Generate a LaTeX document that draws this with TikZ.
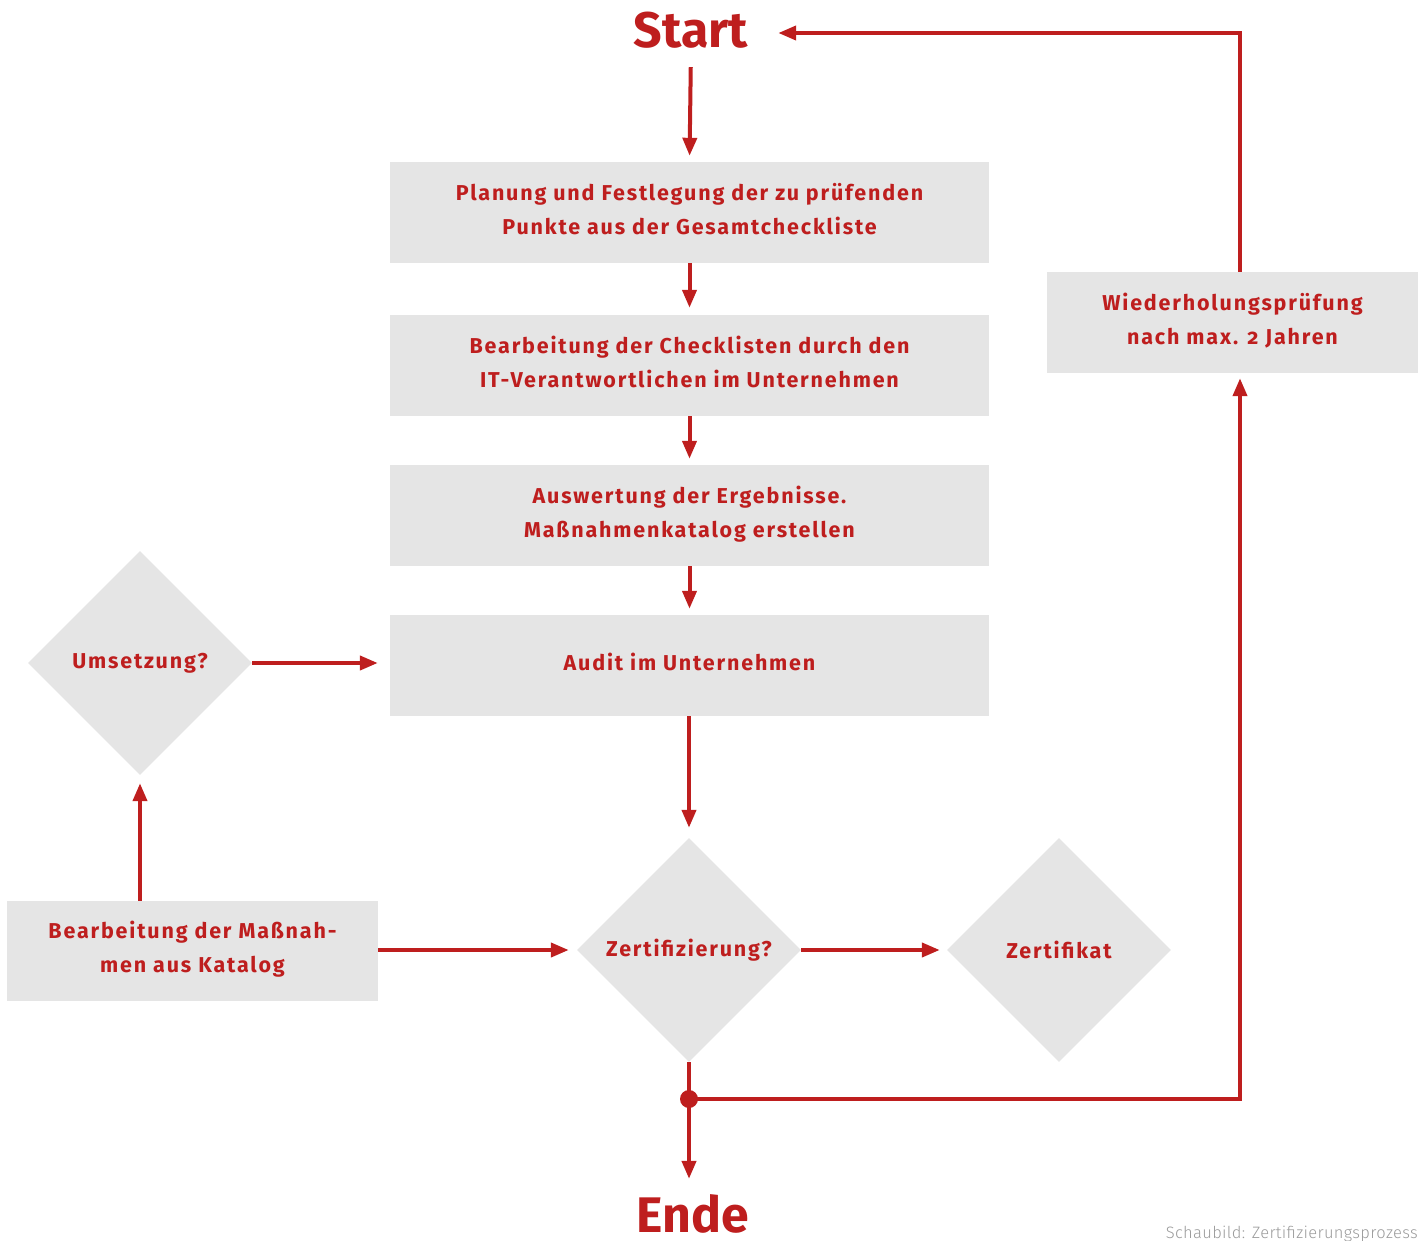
\documentclass[tikz,border=0pt]{standalone}
\usepackage{fontspec}
\setmainfont{Fira Sans}[Numbers=OldStyle,LetterSpace=8.5]
\newfontfamily\bigfont{Fira Sans}
\newfontfamily\footfont{Fira Sans Light}[LetterSpace=2]
\usetikzlibrary{shapes.geometric,arrows.meta}
\definecolor{cred}{RGB}{190,30,30}
\definecolor{cgray}{RGB}{229,229,229}
\definecolor{cfoot}{RGB}{155,155,155}
\begin{document}
\begin{tikzpicture}[x=1pt,y=-1pt,
  box/.style={rectangle,fill=cgray,minimum width=599pt,minimum height=101pt,inner sep=0pt,
    text depth=8pt,align=center,text=cred,font=\fontsize{21.5}{34}\selectfont\bfseries},
  dia/.style={diamond,fill=cgray,aspect=1,minimum width=224pt,minimum height=224pt,inner sep=0pt,
    align=center,text=cred,font=\fontsize{21.5}{34}\selectfont\bfseries},
  big/.style={text=cred,inner sep=0pt,font=\bigfont\fontsize{50}{50}\selectfont\bfseries},
  conn/.style={draw=cred,line width=4pt,-{Triangle[length=18pt,width=14pt]}},
]
\useasboundingbox (0,0) rectangle (1427,1240);
\node[big,anchor=base] (start) at (691,47) {Start};
\node[big,anchor=base] (ende) at (693,1232) {Ende};
\node[box] (b1) at (689.5,212.5) {Planung und Festlegung der zu prüfenden\\Punkte aus der Gesamtcheckliste};
\node[box] (b2) at (689.5,365.5) {Bearbeitung der Checklisten durch den\\IT-Verantwortlichen im Unternehmen};
\node[box] (b3) at (689.5,515.5) {Auswertung der Ergebnisse.\\Maßnahmenkatalog erstellen};
\node[box] (b4) at (689.5,665.5) {Audit im Unternehmen};
\node[dia] (zert) at (689,950) {Zertifizierung?};
\node[dia] (zfk) at (1059,950) {Zertifikat};
\node[dia] (ums) at (140,663) {Umsetzung?};
\node[box,minimum width=371pt,minimum height=100pt] (b5) at (192.5,951) {Bearbeitung der Maßnah-\\men aus Katalog};
\node[box,minimum width=371pt,minimum height=101pt] (rep) at (1232.5,322.5) {Wiederholungsprüfung\\nach max. 2 Jahren};
\coordinate (j) at (689,1099);
\coordinate (tc) at (1240,33);
\node[anchor=base east,inner sep=0pt,text=cfoot,font=\footfont\fontsize{16.5}{16.5}\selectfont] (foot) at (1418,1238) {Schaubild: Zertifizierungsprozess};

\draw[conn,shorten <=19pt,shorten >=6pt] (start.south) -- (b1.north);
\draw[conn,shorten >=7pt] (b1.south) -- (b2.north);
\draw[conn,shorten >=6pt] (b2.south) -- (b3.north);
\draw[conn,shorten >=6pt] (b3.south) -- (b4.north);
\draw[conn,shorten >=10pt] (b4.south -| zert.north) -- (zert.north);
\draw[conn,shorten >=7pt] (zert.east) -- (zfk.west);
\draw[conn,shorten >=8pt] (b5.east |- zert.west) -- (zert.west);
\draw[conn,shorten >=8pt] (b5.north -| ums.south) -- (ums.south);
\draw[conn,shorten >=12pt] (ums.east) -- (ums.east -| b4.west);
\draw[conn,shorten >=15pt] (zert.south) -- (zert.south |- ende.north);
\fill[cred] (j) circle (9pt);
\draw[conn,shorten >=5pt] (j) -| (tc |- rep.south);
\draw[conn,shorten >=30pt] (tc |- rep.north) -- (tc) -- (tc -| start.east);
\end{tikzpicture}
\end{document}
